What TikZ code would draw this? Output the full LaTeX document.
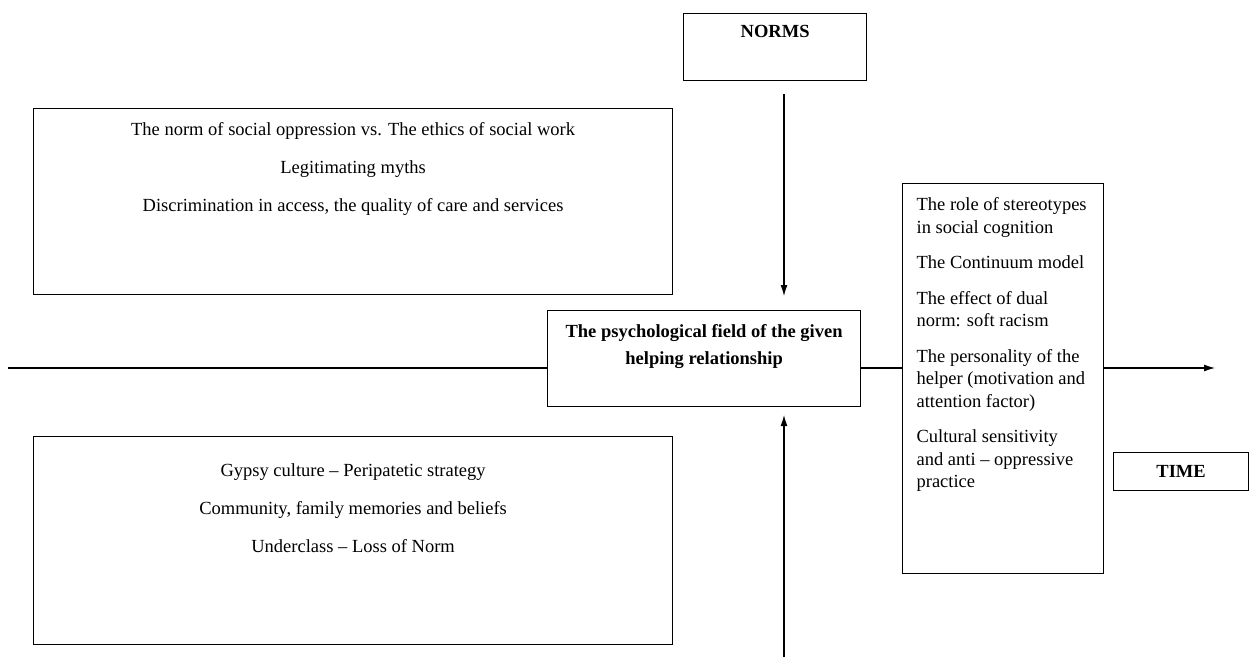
\documentclass[tikz,border=0pt]{standalone}
\usepackage{fontspec}
\setmainfont{Liberation Serif}
\usetikzlibrary{arrows.meta,positioning}
\tikzset{
  box/.style={draw, line width=1.2pt, inner sep=0pt, anchor=north west},
  txt/.style={inner sep=0pt, align=center, font=\fontsize{18.5}{23}\selectfont},
  bold/.style={txt, font=\fontsize{18.5}{27}\selectfont\bfseries},
}
\begin{document}
\begin{tikzpicture}[x=1pt, y=-1pt, line width=1.2pt, >={Latex[length=11pt,width=7pt]}]
            \useasboundingbox (0,0) rectangle (1250,657);
            % boxes
            \node[box, minimum width=183pt, minimum height=67pt] (norms) at (683,13) {};
            \node[box, minimum width=639pt, minimum height=186pt] (oppr) at (33,108) {};
            \node[box, minimum width=639pt, minimum height=208pt] (gypsy) at (33,436) {};
            \node[box, minimum width=313pt, minimum height=96pt] (field) at (547,310) {};
            \node[box, minimum width=201pt, minimum height=390pt] (cogn) at (902,183) {};
            \node[box, minimum width=135pt, minimum height=38pt] (time) at (1113,452) {};
            % texts
            \node[bold, anchor=north] at ([yshift=-12pt]norms.north) {NORMS};
            \node[txt, anchor=north] at ([yshift=-14pt]oppr.north)
                {The norm of social oppression vs. The ethics of social work\\[15pt]
                 Legitimating myths\\[15pt]
                 Discrimination in access, the quality of care and services};
            \node[txt, anchor=north] at ([yshift=-27pt]gypsy.north)
                {Gypsy culture -- Peripatetic strategy\\[15pt]
                 Community, family memories and beliefs\\[15pt]
                 Underclass -- Loss of Norm};
            \node[bold, anchor=north] at ([yshift=-14pt]field.north)
                {The psychological field of the given\\helping relationship};
            \node[txt, align=left, anchor=north west, font=\fontsize{18.5}{22.5}\selectfont]
                at ([xshift=14pt,yshift=-14pt]cogn.north west)
                {The role of stereotypes\\in social cognition\\[13pt]
                 The Continuum model\\[13pt]
                 The effect of dual\\norm: soft racism\\[13pt]
                 The personality of the\\helper (motivation and\\attention factor)\\[13pt]
                 Cultural sensitivity\\and anti -- oppressive\\practice};
            \node[bold, anchor=center] at (time.center) {TIME};
            % connectors
            \coordinate (axL) at (8,368);
            \coordinate (axR) at (1215,368);
            \coordinate (normsFoot) at (784,94);
            \coordinate (normsTip) at (784,296);
            \coordinate (baseFoot) at (784,657);
            \coordinate (baseTip) at (784,415);
            \draw (axL) -- (axL -| field.west);
            \draw (axL -| field.east) -- (axL -| cogn.west);
            \draw[->] (axL -| cogn.east) -- (axR);
            \draw[->] (normsFoot) -- (normsTip);
            \draw[->] (baseFoot) -- (baseTip);
\end{tikzpicture}
\end{document}
